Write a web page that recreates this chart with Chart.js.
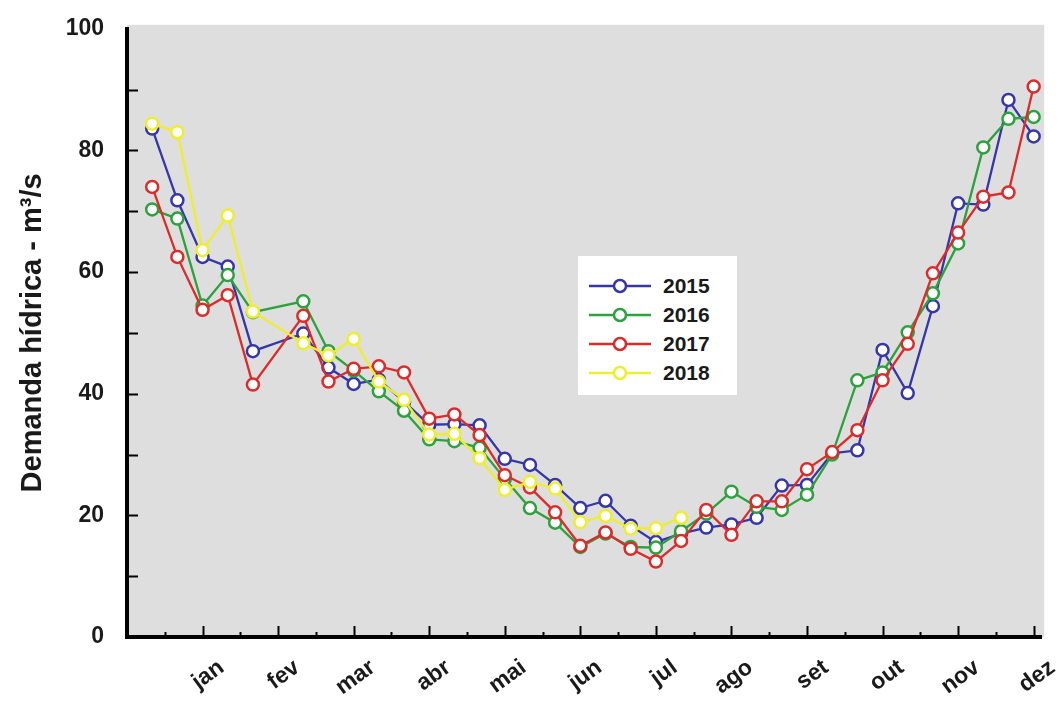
<!DOCTYPE html>
<html>
<head>
<meta charset="utf-8">
<script src="https://cdn.jsdelivr.net/npm/chart.js@4.4.1/dist/chart.umd.min.js"></script>
<style>
  body { margin: 0; background: #fff; }
  #wrap { position: relative; width: 1059px; height: 703px; }
  #legend {
    position: absolute; left: 578px; top: 256px; width: 159px; height: 139px;
    background: #fff; font: bold 21px "Liberation Sans", Arial, sans-serif; color: #1a1a1a;
    box-sizing: border-box; padding-top: 15px;
  }
  #legend .row { display: flex; align-items: center; height: 29px; }
  #legend svg { margin-left: 11px; margin-right: 12px; }
</style>
</head>
<body>
<div id="wrap">
  <canvas id="chart" width="1059" height="703"></canvas>
  <div id="legend"></div>
</div>
<script>
// decêndios (3 per month), slot 6 has no data
const slots = [1,2,3,4,5,6,7,8,9,10,11,12,13,14,15,16,17,18,19,20,21,22,23,24,25,26,27,28,29,30,31,32,33,34,35,36];
const months = ['jan','fev','mar','abr','mai','jun','jul','ago','set','out','nov','dez'];
const yTicks = [0, 20, 40, 60, 80, 100];

const d2015 = [83.6,71.8,62.5,60.9,47.0,null,49.9,44.3,41.6,42.3,38.7,34.9,35.0,34.8,29.3,28.3,25.0,21.2,22.4,18.3,15.6,17.0,18.0,18.5,19.6,24.9,25.0,30.2,30.7,47.2,40.1,54.4,71.3,71.1,88.3,82.3];
const d2016 = [70.3,68.8,54.5,59.5,53.4,null,55.2,47.0,43.8,40.4,37.2,32.5,32.2,31.1,26.0,21.2,18.8,14.8,17.0,14.8,14.7,17.4,20.3,23.9,21.4,20.9,23.4,30.0,42.2,43.5,50.1,56.5,64.7,80.5,85.2,85.5];
const d2017 = [74.0,62.5,53.8,56.2,41.5,null,52.8,42.0,44.1,44.5,43.5,35.9,36.6,33.2,26.6,24.6,20.5,15.0,17.2,14.5,12.4,15.8,20.9,16.8,22.3,22.3,27.6,30.4,34.0,42.2,48.2,59.8,66.5,72.4,73.1,90.5];
const d2018 = [84.4,83.0,63.6,69.3,53.5,null,48.3,46.3,49.0,42.0,39.0,33.3,33.4,29.4,24.2,25.5,24.4,18.9,19.9,17.8,17.9,19.6];

const series = [
  { label: '2015', data: d2015, color: '#3636a8', order: 3 },
  { label: '2016', data: d2016, color: '#2ca13c', order: 2 },
  { label: '2017', data: d2017, color: '#dc2b2b', order: 1 },
  { label: '2018', data: d2018, color: '#eeee2e', order: 0 }
];

const font = 'Liberation Sans';

const plotBg = {
  id: 'plotBg',
  beforeDraw(chart) {
    const { ctx, chartArea: a } = chart;
    ctx.save();
    ctx.fillStyle = '#dedede';
    ctx.fillRect(a.left, a.top - 4, a.right - a.left + 3, a.bottom - a.top + 4);
    ctx.restore();
  }
};

// tick marks pointing into the plot
const innerTicks = {
  id: 'innerTicks',
  afterDraw(chart) {
    const { ctx, chartArea: a, scales } = chart;
    ctx.save();
    ctx.strokeStyle = '#000';
    ctx.lineWidth = 2;
    scales.y.ticks.forEach(t => {
      if (t.value <= 0 || t.value >= 100) return;
      const y = Math.round(scales.y.getPixelForValue(t.value)) + 0.5;
      ctx.beginPath(); ctx.moveTo(a.left, y); ctx.lineTo(a.left + 11, y); ctx.stroke();
    });
    scales.x.ticks.forEach(t => {
      if (t.value <= 0) return;
      const x = Math.round(scales.x.getPixelForValue(t.value)) + 0.5;
      const len = Math.abs(t.value % 3) < 1e-6 ? 11 : 5;
      ctx.beginPath(); ctx.moveTo(x, a.bottom); ctx.lineTo(x, a.bottom - len); ctx.stroke();
    });
    ctx.restore();
  }
};

const chart = new Chart(document.getElementById('chart'), {
  type: 'line',
  data: {
    datasets: series.map(s => ({
      label: s.label,
      data: s.data.map((v, i) => ({ x: slots[i], y: v })),
      borderColor: s.color,
      backgroundColor: '#fff',
      pointBackgroundColor: '#fff',
      pointBorderColor: s.color,
      pointBorderWidth: 2.5,
      pointRadius: 6,
      borderWidth: 2.3,
      tension: 0,
      spanGaps: true,
      order: s.order
    }))
  },
  options: {
    responsive: false,
    animation: false,
    layout: { padding: { top: 22, right: 14, left: 16, bottom: 0 } },
    plugins: { legend: { display: false }, tooltip: { enabled: false } },
    scales: {
      x: {
        type: 'linear',
        min: 0,
        max: 36.3,
        grid: { display: false },
        border: { display: true, color: '#000', width: 4 },
        afterFit: s => { s.height = 66; },
        ticks: {
          stepSize: 1.5,
          includeBounds: false,
          autoSkip: false,
          minRotation: 36,
          maxRotation: 36,
          labelOffset: 19,
          padding: 9,
          color: '#1a1a1a',
          font: { family: font, size: 23, weight: 'bold' },
          callback: v => (Math.abs(v % 3) < 1e-6 && v > 0) ? months[v / 3 - 1] : ''
        }
      },
      y: {
        min: 0,
        max: 100,
        grid: { display: false },
        border: { display: true, color: '#000', width: 4 },
        afterFit: s => { s.width = 111; },
        ticks: {
          stepSize: 10,
          padding: 15,
          color: '#1a1a1a',
          font: { family: font, size: 23, weight: 'bold' },
          callback: v => yTicks.includes(v) ? v : ''
        },
        title: {
          display: true,
          text: 'Demanda hídrica - m³/s',
          color: '#1a1a1a',
          padding: { top: 0, bottom: 0 },
          font: { family: font, size: 29, weight: 'bold' }
        }
      }
    }
  },
  plugins: [plotBg, innerTicks]
});

// legend box: line with open circle, then year
const legend = document.getElementById('legend');
series.forEach(s => {
  const row = document.createElement('div');
  row.className = 'row';
  row.innerHTML = `
    <svg width="62" height="16"><line x1="0" y1="8" x2="62" y2="8" stroke="${s.color}" stroke-width="2.5"/>
    <circle cx="31" cy="8" r="6" fill="#fff" stroke="${s.color}" stroke-width="2.5"/></svg>
    <span>${s.label}</span>`;
  legend.appendChild(row);
});
</script>
</body>
</html>
